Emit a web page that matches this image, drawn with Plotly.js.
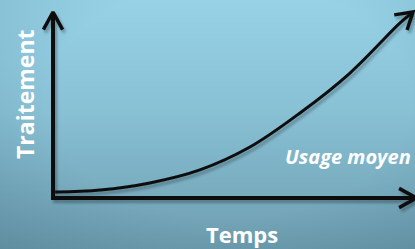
<!DOCTYPE html>
<html><head><meta charset="utf-8">
<script src="https://cdn.plot.ly/plotly-3.0.1.min.js"></script>
<style>
html,body{margin:0;padding:0;width:415px;height:249px;overflow:hidden;}
#chart{width:415px;height:249px;background:
 radial-gradient(ellipse 80% 85% at 55% 40%, rgba(0,0,0,0) 55%, rgba(10,50,70,0.16) 100%),
 linear-gradient(to bottom, #97d2e7 0%, #88c0d4 45%, #6e9eb0 100%);}
#chart .scatterlayer{filter:url(#soft);}
</style></head><body>
<svg width="0" height="0" style="position:absolute">
 <defs>
  <filter id="soft" filterUnits="userSpaceOnUse" x="-50" y="-50" width="600" height="400">
   <feGaussianBlur in="SourceAlpha" stdDeviation="1.6"/>
   <feOffset dx="1.5" dy="3"/>
   <feComponentTransfer><feFuncA type="linear" slope="0.3"/></feComponentTransfer>
   <feMerge><feMergeNode/><feMergeNode in="SourceGraphic"/></feMerge>
  </filter>
 </defs>
</svg>
<div id="chart"></div>
<script>
// ---- data ----
const timeVals  = [0.06, 1.31, 2.69, 4.08, 5.47, 6.86, 8.25, 9.64, 10.0];
const usageVals = [0.32, 0.43, 0.81, 1.51, 2.74, 4.57, 6.72, 9.41, 10.0];
const xTitle = 'Temps';
const yTitle = 'Traitement';
const seriesName = 'Usage moyen';
const axisMax = 10;
const xAxisEnd = 10.1;

// ---- geometry ----
const W = 415, H = 249;
const x0px = 53, x10px = 413, y0px = 198, y10px = 12;
const sx = (x10px - x0px) / axisMax;   // px per unit
const sy = (y0px - y10px) / axisMax;
const xRange = [-x0px / sx, (W - x0px) / sx];
const yRange = [-(H - y0px) / sy, axisMax + y10px / sy];
const px = v => v / W, py = v => 1 - v / H;

function chevron(tx, ty, dxp, dyp, L, ang) {
  const n = Math.hypot(dxp, dyp);
  const bx = -dxp / n, by = -dyp / n;
  const pts = [ang, -ang].map(a => {
    const rx = bx * Math.cos(a) - by * Math.sin(a);
    const ry = bx * Math.sin(a) + by * Math.cos(a);
    return [tx + L * rx / sx, ty + L * ry / sy];
  });
  return {x: [pts[0][0], tx, pts[1][0]], y: [pts[0][1], ty, pts[1][1]]};
}

const ink = '#0d0d0d';
const n = timeVals.length;
const yArrow = chevron(0, axisMax, 0, 1, 20, 0.50);
const xArrow = chevron(xAxisEnd, 0, 1, 0, 20, 0.50);
const cArrow = chevron(timeVals[n-1], usageVals[n-1],
  (timeVals[n-1] - timeVals[n-2]) * sx, (usageVals[n-1] - usageVals[n-2]) * sy, 19, 0.55);

const traces = [
  {x: [0, 0, xAxisEnd], y: [axisMax, 0, 0], mode: 'lines', line: {color: ink, width: 4}, hoverinfo: 'skip'},
  {x: yArrow.x, y: yArrow.y, mode: 'lines', line: {color: ink, width: 3.5}, hoverinfo: 'skip'},
  {x: xArrow.x, y: xArrow.y, mode: 'lines', line: {color: ink, width: 3.5}, hoverinfo: 'skip'},
  {x: timeVals, y: usageVals, name: seriesName, mode: 'lines', line: {color: ink, width: 3, shape: 'spline', smoothing: 1}},
  {x: cArrow.x, y: cArrow.y, mode: 'lines', line: {color: ink, width: 3.5}, hoverinfo: 'skip'}
];

const white = '#ffffff';
const layout = {
  width: W, height: H,
  margin: {l: 0, r: 0, t: 0, b: 0, pad: 0},
  paper_bgcolor: 'rgba(0,0,0,0)', plot_bgcolor: 'rgba(0,0,0,0)',
  showlegend: false,
  xaxis: {range: xRange, visible: false, fixedrange: true},
  yaxis: {range: yRange, visible: false, fixedrange: true},
  annotations: [
    {text: yTitle, xref: 'paper', yref: 'paper', x: px(25), y: py(94), textangle: -90,
     showarrow: false, xanchor: 'center', yanchor: 'middle',
     font: {family: 'Open Sans', size: 23, color: white, weight: 700}},
    {text: xTitle, xref: 'paper', yref: 'paper', x: px(242), y: py(234),
     showarrow: false, xanchor: 'center', yanchor: 'middle',
     font: {family: 'Open Sans', size: 22, color: white, weight: 700}},
    {text: seriesName, xref: 'paper', yref: 'paper', x: px(283), y: py(156),
     showarrow: false, xanchor: 'left', yanchor: 'middle',
     font: {family: 'Open Sans', size: 20, color: white, weight: 700, style: 'italic'}}
  ]
};
Plotly.newPlot('chart', traces, layout, {displayModeBar: false, staticPlot: true});
</script>
</body></html>
